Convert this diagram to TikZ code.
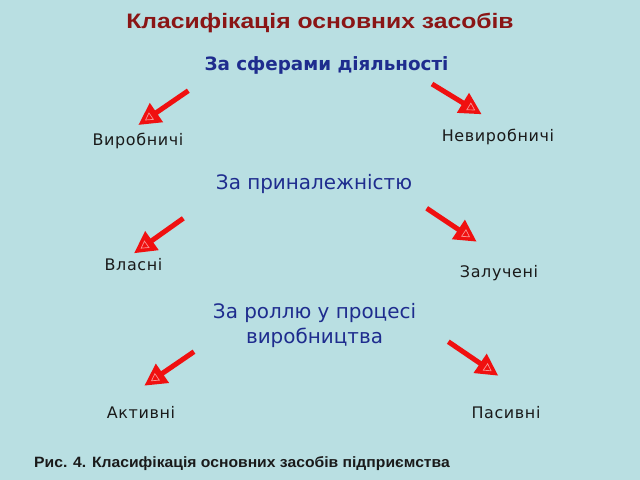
\documentclass[tikz,border=0pt]{standalone}
\usepackage{fontspec}
\setmainfont{Liberation Sans}
\newfontfamily\dv{DejaVu Sans}
\newfontfamily\dvl[LetterSpace=4]{DejaVu Sans}
\newfontfamily\ttlfont[FakeStretch=1.18]{Liberation Sans}
\newfontfamily\capfont[FakeStretch=1.05]{Liberation Sans}
\usetikzlibrary{arrows.meta,shapes.geometric}
\definecolor{bg}{HTML}{B9DFE2}
\definecolor{ttl}{HTML}{8A1515}
\definecolor{sub}{HTML}{1E2C8E}
\definecolor{lbl}{HTML}{1A1A1A}
\definecolor{arr}{HTML}{F01010}
\tikzset{
  title/.style={text=ttl,font=\ttlfont\fontsize{21}{25}\selectfont\bfseries,inner sep=0pt,anchor=base},
  subhead/.style={text=sub,font=\dv\fontsize{20}{25}\selectfont,inner sep=0pt,align=center},
  subheadb/.style={text=sub,font=\dv\fontsize{18.4}{23}\selectfont\bfseries,inner sep=0pt,anchor=base},
  leaf/.style={text=lbl,font=\dvl\fontsize{16}{19}\selectfont,inner sep=0pt,anchor=base},
  caption/.style={text=lbl,font=\capfont\fontsize{15}{18}\selectfont\bfseries,inner sep=0pt,anchor=base west},
  redarrow/.style={draw=arr,line width=5bp,-{Triangle[length=22bp,width=22bp]}},
  innertri/.style={draw=arr!45!white,line width=0.7bp,regular polygon,regular polygon sides=3,
     shape border rotate=-90,minimum size=9bp,inner sep=0pt,sloped,allow upside down}
}
\begin{document}
\begin{tikzpicture}[x=1bp,y=-1bp]
\fill[bg] (0,0) rectangle (640,480);
\useasboundingbox (0,0) rectangle (640,480);
\node[title] (t) at (320,28.5) {Класифікація основних засобів};
\node[subheadb] (s1) at (326.5,70.5) {За сферами діяльності};
\node[subhead,anchor=base] (s2) at (314,190) {За приналежністю};
\node[subhead] (s3) at (314.5,325.5) {За роллю у процесі\\виробництва};
\node[leaf] (l1) at (138,145.7) {Виробничі};
\node[leaf] (r1) at (498,142) {Невиробничі};
\node[leaf] (l2) at (133.5,270) {Власні};
\node[leaf] (r2) at (499,277) {Залучені};
\node[leaf] (l3) at (141,418) {Активні};
\node[leaf] (r3) at (506,418) {Пасивні};
\node[caption] (cap) at (34,467.3) {Рис. 4. Класифікація основних засобів підприємства};
\coordinate (a1s) at (188.3,90.7); \coordinate (a1e) at (138.3,125);
\coordinate (b1s) at (432,84);     \coordinate (b1e) at (481.7,114.3);
\coordinate (a2s) at (183.3,218.3);\coordinate (a2e) at (134,253.3);
\coordinate (b2s) at (426.7,208.3);\coordinate (b2e) at (476.7,241.7);
\coordinate (a3s) at (194,351.7);  \coordinate (a3e) at (144.3,385.7);
\coordinate (b3s) at (448.3,341.7);\coordinate (b3e) at (498.3,375.7);
\foreach \s/\e in {a1s/a1e,b1s/b1e,a2s/a2e,b2s/b2e,a3s/a3e,b3s/b3e}{
  \draw[redarrow] (\s) -- node[innertri,pos=0.78]{} (\e);
}
\end{tikzpicture}
\end{document}
